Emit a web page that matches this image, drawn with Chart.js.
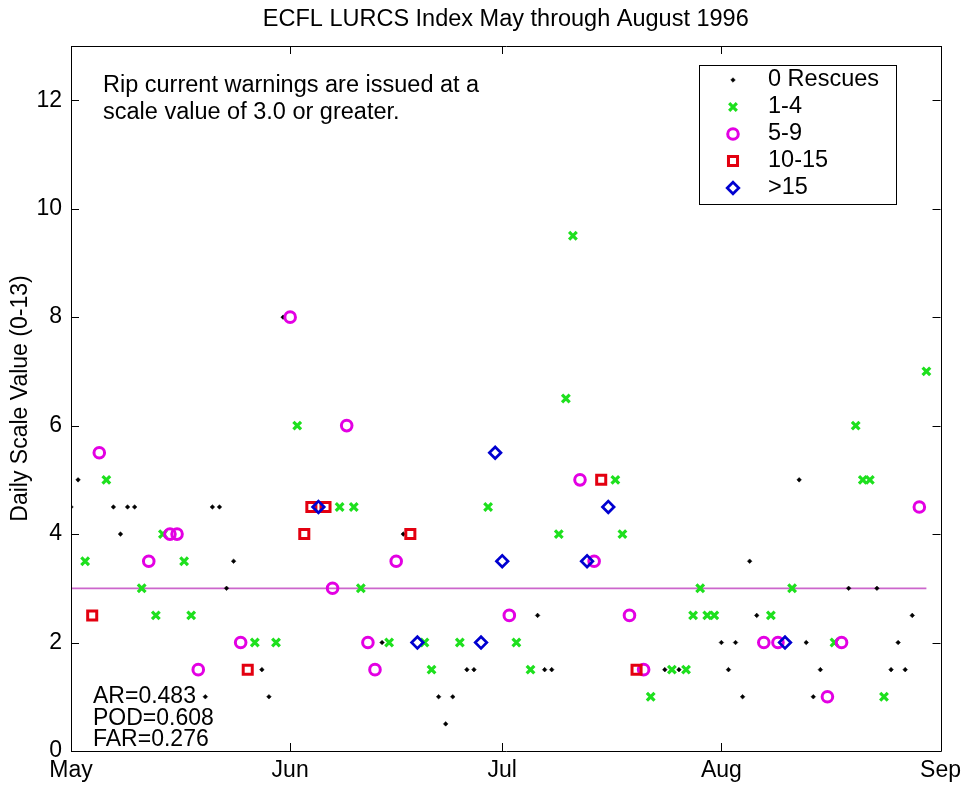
<!DOCTYPE html>
<html><head><meta charset="utf-8">
<script src="https://cdn.jsdelivr.net/npm/chart.js@4.4.1/dist/chart.umd.min.js"></script>
<style>html,body{margin:0;padding:0;background:#fff}#wrap{width:967px;height:785px;position:relative}</style>
</head><body><div id="wrap"><canvas id="c" width="967" height="785"></canvas></div>
<script>
// Day offsets from 1 May 1996 (0 = May 1)
const rescue0Days = [0,1,6,7,8,9,19,20,21,22,23,27,28,30,44,47,52,53,54,56,57,66,67,68,84,86,92,93,94,95,96,97,103,104,105,106,110,114,116,117,118,119];
const rescue0Vals = [4.5,5,4.5,4,4.5,4.5,1,4.5,4.5,3,3.5,1.5,1,8,2,4,1,0.5,1,1.5,1.5,2.5,1.5,1.5,1.5,1.5,2,1.5,2,1,3.5,2.5,5,2,1,1.5,3,3,1.5,2,1.5,2.5];
const rescue1to4Days = [2,5,10,12,13,16,17,26,29,32,38,40,41,45,50,51,55,59,63,65,69,70,71,77,78,82,85,87,88,89,90,91,99,102,108,111,112,113,115,121];
const rescue1to4Vals = [3.5,5,3,2.5,4,3.5,2.5,2,2,6,4.5,4.5,3,2,2,1.5,2,4.5,2,1.5,4,6.5,9.5,5,4,1,1.5,1.5,2.5,3,2.5,2.5,2.5,3,2,6,5,5,1,7];
const rescue5to9Days = [4,11,14,15,18,24,31,37,39,42,43,46,62,72,74,79,81,98,100,107,109,120];
const rescue5to9Vals = [5.5,3.5,4,4,1.5,2,8,3,6,2,1.5,3.5,2.5,5,3.5,2.5,1.5,2,2,1,2,4.5];
const rescue10to15Days = [3,25,33,34,36,48,75,80];
const rescue10to15Vals = [2.5,1.5,4,4.5,4.5,4,5,1.5];
const rescueOver15Days = [35,49,58,60,61,73,76,101];
const rescueOver15Vals = [4.5,2,2,5.5,3.5,3.5,4.5,2];
const warningLevel = 3.0;
const warningSpanDays = [0,121];

const seriesLabels = ['0 Rescues','1-4','5-9','10-15','>15'];
const monthTicks = [0,31,61,92,123];
const monthLabels = ['May','Jun','Jul','Aug','Sep'];
const yTicks = [0,2,4,6,8,10,12];
const titleText = 'ECFL LURCS Index May through August 1996';
const yTitle = 'Daily Scale Value (0-13)';
const noteLines = ['Rip current warnings are issued at a','scale value of 3.0 or greater.'];
const statLines = ['AR=0.483','POD=0.608','FAR=0.276'];

const FONT = '"Liberation Sans", Arial, Helvetica, sans-serif';
const FS = 23;
const pts = (xs, ys) => xs.map((x,i)=>({x:x, y:ys[i]}));

const styles = [
  {pointStyle:'rectRot', radius:2.3, borderWidth:0.5, borderColor:'#000', backgroundColor:'#000'},
  {pointStyle:'crossRot', radius:5.4, borderWidth:3.2, borderColor:'#1ee01e', backgroundColor:'rgba(0,0,0,0)'},
  {pointStyle:'circle', radius:5.3, borderWidth:3, borderColor:'#e300e3', backgroundColor:'rgba(0,0,0,0)'},
  {pointStyle:'rect', radius:6.4, borderWidth:3, borderColor:'#e30010', backgroundColor:'rgba(0,0,0,0)'},
  {pointStyle:'rectRot', radius:5.8, borderWidth:2.7, borderColor:'#0000d0', backgroundColor:'rgba(0,0,0,0)'}
];
const seriesData = [
  pts(rescue0Days, rescue0Vals),
  pts(rescue1to4Days, rescue1to4Vals),
  pts(rescue5to9Days, rescue5to9Vals),
  pts(rescue10to15Days, rescue10to15Vals),
  pts(rescueOver15Days, rescueOver15Vals)
];
const datasets = seriesData.map((d,i)=>({
  label: seriesLabels[i], data: d, showLine:false, order: 5-i,
  pointStyle: styles[i].pointStyle, pointRadius: styles[i].radius, pointBorderWidth: styles[i].borderWidth,
  pointBorderColor: styles[i].borderColor, pointBackgroundColor: styles[i].backgroundColor,
  pointHoverRadius: styles[i].radius
}));
datasets.push({
  label:'warning', type:'line', data: warningSpanDays.map(d=>({x:d,y:warningLevel})),
  borderColor:'#cc66cc', borderWidth:1.7, pointRadius:0, fill:false, order: 10
});

const frameTicks = {
  id:'frameTicks',
  afterDatasetsDraw(chart){
    const {ctx, chartArea:a, scales:{x,y}} = chart;
    ctx.save();
    ctx.strokeStyle = '#000'; ctx.lineWidth = 1;
    ctx.beginPath();
    ctx.rect(Math.round(a.left)+0.5, Math.round(a.top)+0.5, Math.round(a.right-a.left), Math.round(a.bottom-a.top));
    const L = 8;
    monthTicks.forEach(v=>{
      const px = Math.round(x.getPixelForValue(v))+0.5;
      ctx.moveTo(px, a.bottom); ctx.lineTo(px, a.bottom-L);
      ctx.moveTo(px, a.top); ctx.lineTo(px, a.top+L);
    });
    yTicks.forEach(v=>{
      const py = Math.round(y.getPixelForValue(v))+0.5;
      ctx.moveTo(a.left, py); ctx.lineTo(a.left+L, py);
      ctx.moveTo(a.right, py); ctx.lineTo(a.right-L, py);
    });
    ctx.stroke();
    ctx.restore();
  },
  afterDraw(chart){
    const ctx = chart.ctx, a = chart.chartArea;
    ctx.save();
    ctx.fillStyle = '#000';
    ctx.textBaseline = 'middle';
    ctx.font = '23.5px ' + FONT;
    ctx.textAlign = 'center';
    ctx.fillText(titleText, (a.left + a.right)/2, 20);
    ctx.textAlign = 'left';
    ctx.font = '23.5px ' + FONT;
    noteLines.forEach((t,i)=> ctx.fillText(t, 103, 86 + i*27));
    ctx.font = FS + 'px ' + FONT;
    statLines.forEach((t,i)=> ctx.fillText(t, 93, 697 + i*21.5));
    // legend box
    const bx = 699.5, by = 65.5, bw = 197, bh = 139;
    ctx.fillStyle = '#fff'; ctx.fillRect(bx, by, bw, bh);
    ctx.strokeStyle = '#000'; ctx.lineWidth = 1; ctx.strokeRect(bx, by, bw, bh);
    ctx.font = '23.5px ' + FONT;
    seriesLabels.forEach((lab,i)=>{
      const yy = 80 + i*27;
      const s = styles[i];
      ctx.save();
      ctx.fillStyle = s.backgroundColor; ctx.strokeStyle = s.borderColor; ctx.lineWidth = s.borderWidth;
      Chart.helpers.drawPoint(ctx, {pointStyle:s.pointStyle, radius:s.radius, borderWidth:s.borderWidth, rotation:0}, 733, yy);
      ctx.restore();
      ctx.fillStyle = '#000';
      ctx.fillText(lab, 768, yy);
    });
    ctx.restore();
  }
};

new Chart(document.getElementById('c'), {
  type:'scatter',
  data:{datasets},
  options:{
    responsive:false, animation:false, devicePixelRatio:1,
    layout:{padding:{left:0,right:25,top:46,bottom:0}},
    plugins:{ legend:{display:false}, tooltip:{enabled:false}, title:{display:false} },
    scales:{
      x:{type:'linear', min:0, max:123,
        afterBuildTicks: a => { a.ticks = monthTicks.map(v=>({value:v})); },
        afterFit: s => { s.height = 34; },
        grid:{drawOnChartArea:false, drawTicks:false}, border:{display:false},
        ticks:{autoSkip:false, maxRotation:0, padding:6, color:'#000', font:{family:FONT, size:FS},
          callback: v => monthLabels[monthTicks.indexOf(v)] }
      },
      y:{type:'linear', min:0, max:13,
        afterBuildTicks: a => { a.ticks = yTicks.map(v=>({value:v})); },
        afterFit: s => { s.width = 71; },
        grid:{drawOnChartArea:false, drawTicks:false}, border:{display:false},
        ticks:{padding:9, color:'#000', font:{family:FONT, size:FS}},
        title:{display:true, text:yTitle, color:'#000', font:{family:FONT, size:FS}, padding:{top:7,bottom:0}}
      }
    }
  },
  plugins:[frameTicks]
});
</script></body></html>
